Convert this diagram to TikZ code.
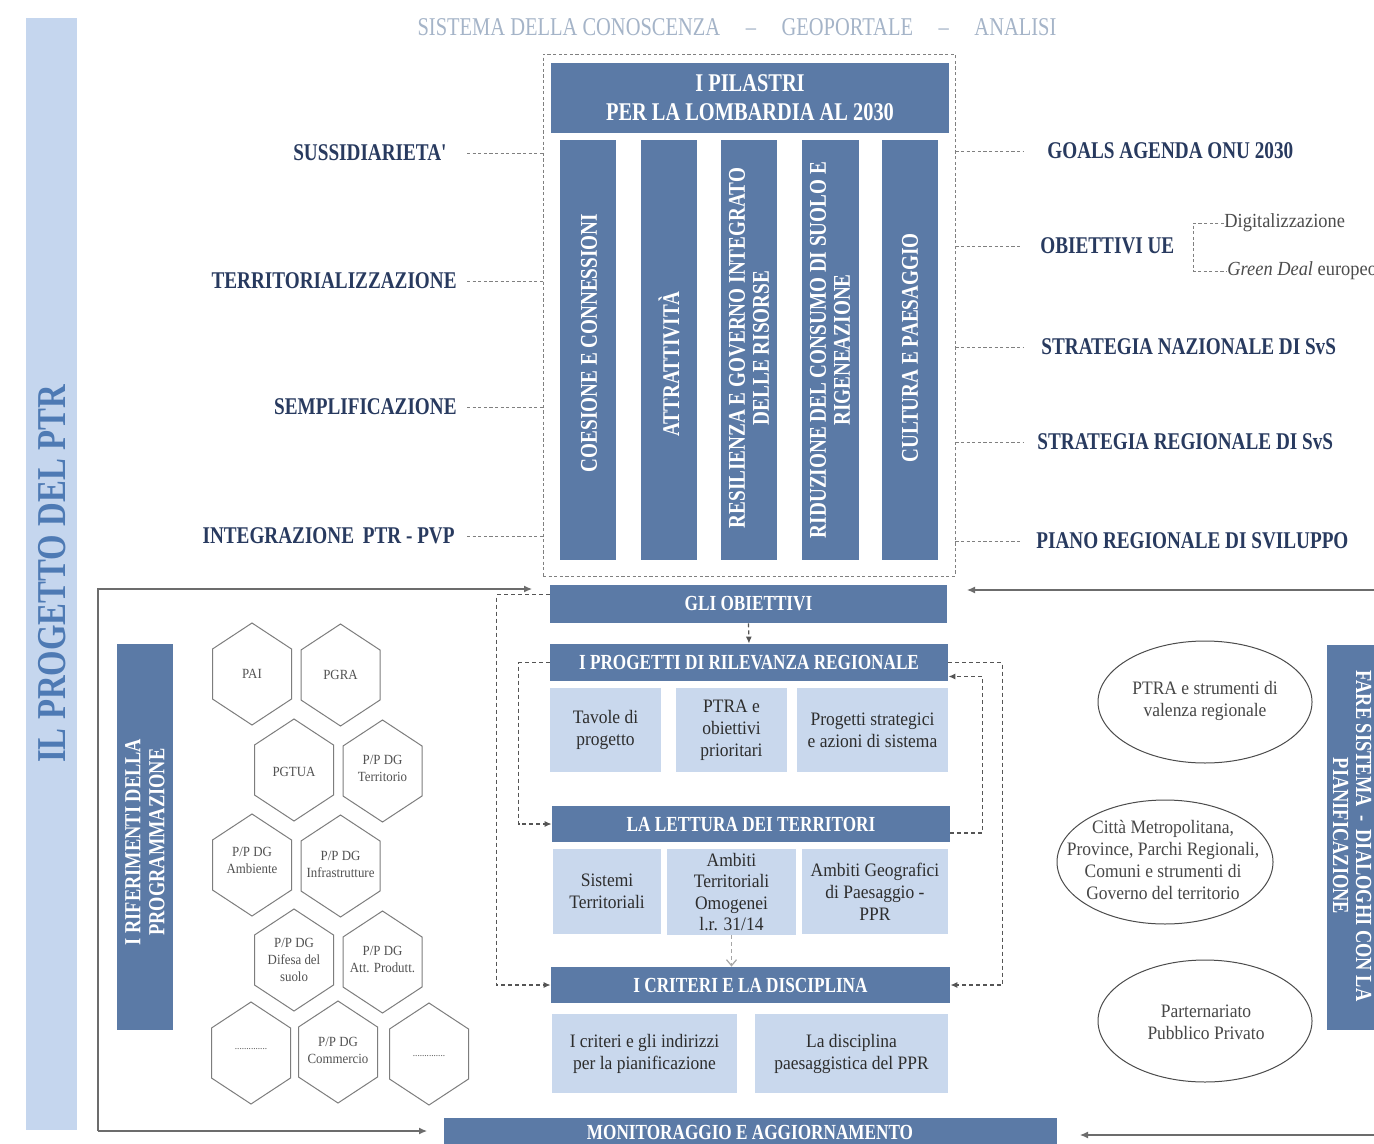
\documentclass[tikz,border=0pt]{standalone}
\usepackage{fontspec}
\setmainfont{Liberation Serif}
\newfontfamily\cond{Liberation Serif}[FakeStretch=0.8]
\newfontfamily\bodyf{Liberation Serif}[FakeStretch=0.92]
\usetikzlibrary{arrows.meta,fit,shapes.geometric}
\definecolor{dkblue}{RGB}{91,122,166}
\definecolor{ltblue}{RGB}{201,216,237}
\definecolor{band}{RGB}{197,214,238}
\definecolor{navy}{RGB}{40,58,95}
\definecolor{steel}{RGB}{78,122,180}
\definecolor{hdrgray}{RGB}{165,180,200}
\definecolor{txtdk}{RGB}{45,45,45}
\definecolor{hexgray}{RGB}{125,125,125}
\definecolor{fbgray}{RGB}{85,85,85}
\newcommand\setfs[2]{\fontsize{#1}{#2}\selectfont}
\newcommand\hexp[2]{\draw[hexst] (#1,#2) ++(0,-51) -- ++(39.5,26) -- ++(0,50) -- ++(-39.5,26) -- ++(-39.5,-26) -- ++(0,-50) -- cycle;}
\begin{document}
\begin{tikzpicture}[x=0.5pt,y=-0.5pt,
  dkbox/.style={fill=dkblue, draw=none, inner sep=0pt},
  ltbox/.style={fill=ltblue, draw=none, inner sep=0pt},
  dktxt/.style={text=white, font=\cond\bfseries\setfs{10.75}{12.5}, align=center, inner sep=0pt},
  lttxt/.style={text=txtdk, font=\bodyf\setfs{9.5}{11}, align=center, inner sep=0pt},
  vtxt/.style={text=white, font=\cond\bfseries\setfs{12}{12}, align=center, rotate=90, inner sep=0pt},
  lab/.style={text=navy, font=\cond\bfseries\setfs{12}{14}, inner sep=0pt},
  dashln/.style={draw=gray, dash pattern=on 1.6pt off 1.2pt, line width=0.45pt},
  garrow/.style={draw=gray!85!black, line width=0.6pt, -{Latex[length=4pt,width=3.5pt]}},
  fb/.style={draw=fbgray, dash pattern=on 2pt off 1.5pt, line width=0.6pt, -{Latex[length=3.5pt,width=3pt]}},
  fbopen/.style={draw=gray!70, dash pattern=on 2pt off 1.5pt, line width=0.6pt, -{Straight Barb[length=3pt,width=5pt]}},
  hexst/.style={draw=hexgray, line width=0.5pt},
  hext/.style={text=black!68, font=\bodyf\setfs{7}{8.5}, align=center, inner sep=0pt},
  elst/.style={ellipse, draw=black!70, line width=0.5pt, inner sep=0pt},
  eltxt/.style={text=black!72, font=\bodyf\setfs{9.5}{11}, align=center, inner sep=0pt}
]
\useasboundingbox (0,0) rectangle (1374,1144);
\clip (0,0) rectangle (1374,1144);
\fill[white] (0,0) rectangle (1374,1144);

% left band
\node[fit={(26,18) (77,1130)}, fill=band, inner sep=0pt] (band) {};
\node[rotate=90, text=steel, font=\cond\bfseries\setfs{20.5}{22}, inner sep=0pt] (bandt) at (52,574) {IL PROGETTO DEL PTR};

% header
\node[text=hdrgray, font=\cond\setfs{12.8}{14}] (head) at (737,27) {SISTEMA DELLA CONOSCENZA\hspace{1em}–\hspace{1em}GEOPORTALE\hspace{1em}–\hspace{1em}ANALISI};

% dashed box and pillars
\node[fit={(543,54) (955,576)}, inner sep=0pt, draw=gray, dash pattern=on 1.6pt off 1.2pt, line width=0.45pt] (box) {};
\node[dkbox, fit={(551,63) (949,133)}] (pil) {};
\node[dktxt, font=\cond\bfseries\setfs{12.75}{14.5}] (pilt) at (pil.center) {I PILASTRI\\PER LA LOMBARDIA AL 2030};
\node[dkbox, fit={(560,140) (616,560)}] (p1) {};
\node[dkbox, fit={(641,140) (697,560)}] (p2) {};
\node[dkbox, fit={(721,140) (777,560)}] (p3) {};
\node[dkbox, fit={(802,140) (859,560)}] (p4) {};
\node[dkbox, fit={(882,140) (938,560)}] (p5) {};
\node[vtxt] (p1t) at (589,343) {COESIONE E CONNESSIONI};
\node[vtxt] (p2t) at (669,364) {ATTRATTIVITÀ};
\node[vtxt] (p3t) at (749,348) {RESILIENZA E GOVERNO INTEGRATO\\DELLE RISORSE};
\node[vtxt] (p4t) at (830,350) {RIDUZIONE DEL CONSUMO DI SUOLO E\\RIGENEAZIONE};
\node[vtxt] (p5t) at (910,348) {CULTURA E PAESAGGIO};

% left labels
\node[lab, anchor=east] (sus) at (447,153) {SUSSIDIARIETA'};
\node[lab, anchor=east] (terr) at (457,281) {TERRITORIALIZZAZIONE};
\node[lab, anchor=east] (semp) at (457,407) {SEMPLIFICAZIONE};
\node[lab, anchor=east] (integ) at (455,536) {INTEGRAZIONE\, PTR - PVP};
\draw[dashln, shorten <=10pt] (sus.east) -- (sus.east -| box.west);
\draw[dashln, shorten <=5pt] (terr.east) -- (terr.east -| box.west);
\draw[dashln, shorten <=5pt] (semp.east) -- (semp.east -| box.west);
\draw[dashln, shorten <=6pt] (integ.east) -- (integ.east -| box.west);

% right labels
\node[lab, anchor=west] (goals) at (1047,151) {GOALS AGENDA ONU 2030};
\node[lab, anchor=west] (obue) at (1040,246) {OBIETTIVI UE};
\node[lab, anchor=west] (snaz) at (1041,347) {STRATEGIA NAZIONALE DI SvS};
\node[lab, anchor=west] (sreg) at (1037,442) {STRATEGIA REGIONALE DI SvS};
\node[lab, anchor=west] (piano) at (1036,541) {PIANO REGIONALE DI SVILUPPO};
\draw[dashln, shorten >=12pt] (goals.west -| box.east) -- (goals.west);
\draw[dashln, shorten >=9pt] (obue.west -| box.east) -- (obue.west);
\draw[dashln, shorten >=9pt] (snaz.west -| box.east) -- (snaz.west);
\draw[dashln, shorten >=7pt] (sreg.west -| box.east) -- (sreg.west);
\draw[dashln, shorten >=7pt] (piano.west -| box.east) -- (piano.west);
\node[anchor=west, inner sep=0pt, text=black!70, font=\bodyf\setfs{10}{12}] (digit) at (1224,223) {Digitalizzazione};
\node[anchor=west, inner sep=0pt, text=black!70, font=\bodyf\setfs{10}{12}] (green) at (1227,271) {\itshape Green Deal\upshape\ europeo};
\draw[dashln] (digit.west) -- ++(-31,0) |- (green.west);

% outer frame and arrows
\coordinate (fTL) at (98,589);
\coordinate (fBL) at (98,1131);
\coordinate (aTop) at (532,589);
\coordinate (aBot) at (427,1131);
\coordinate (rTopS) at (1380,590);
\coordinate (rTopE) at (967,590);
\coordinate (rBotS) at (1380,1135);
\coordinate (rBotE) at (1080,1135);
\draw[garrow] (fBL) -- (fTL) -- (aTop);
\draw[garrow] (fBL) -- (aBot);
\draw[garrow] (rTopS) -- (rTopE);
\draw[garrow] (rBotS) -- (rBotE);

% central column
\node[dkbox, fit={(550,585) (947,623)}] (gli) {};
\node[dktxt] (glit) at (gli.center) {GLI OBIETTIVI};
\node[dkbox, fit={(550,644) (948,681)}] (prog) {};
\node[dktxt] (progt) at (prog.center) {I PROGETTI DI RILEVANZA REGIONALE};
\node[ltbox, fit={(550,688) (661,772)}] (tav) {};
\node[lttxt] (tavt) at (tav.center) {Tavole di\\progetto};
\node[ltbox, fit={(676,688) (787,772)}] (ptra) {};
\node[lttxt] (ptrat) at (ptra.center) {PTRA e\\obiettivi\\prioritari};
\node[ltbox, fit={(797,688) (948,772)}] (pstr) {};
\node[lttxt] (pstrt) at (pstr.center) {Progetti strategici\\e azioni di sistema};
\node[dkbox, fit={(552,806) (950,842)}] (lett) {};
\node[dktxt] (lettt) at (lett.center) {LA LETTURA DEI TERRITORI};
\node[ltbox, fit={(553,849) (661,934)}] (sist) {};
\node[lttxt] (sistt) at (sist.center) {Sistemi\\Territoriali};
\node[ltbox, fit={(667,849) (796,935)}] (amb) {};
\node[lttxt, font=\bodyf\setfs{9.5}{10.8}] (ambt) at (amb.center) {Ambiti\\Territoriali\\Omogenei\\l.r. 31/14};
\node[ltbox, fit={(802,849) (948,934)}] (ageo) {};
\node[lttxt] (ageot) at (ageo.center) {Ambiti Geografici\\di Paesaggio -\\PPR};
\node[dkbox, fit={(551,967) (950,1003)}] (crit) {};
\node[dktxt] (critt) at (crit.center) {I CRITERI E LA DISCIPLINA};
\node[ltbox, fit={(552,1014) (737,1093)}] (cind) {};
\node[lttxt] (cindt) at (cind.center) {I criteri e gli indirizzi\\per la pianificazione};
\node[ltbox, fit={(755,1014) (948,1093)}] (disc) {};
\node[lttxt] (disct) at (disc.center) {La disciplina\\paesaggistica del PPR};
\node[dkbox, fit={(444,1118) (1057,1158)}] (mon) {};
\node[dktxt] (mont) at (750,1132) {MONITORAGGIO E AGGIORNAMENTO};

\draw[fb] (gli.south) -- (prog.north);
\draw[fbopen] (amb.south) -- (amb.south |- crit.north);
\draw[fb] (gli.north west) ++(0,10) -- ++(-53,0) |- (crit.west);
\draw[fb] (prog.west) -- ++(-31,0) |- (lett.west);
\draw[fb] ([yshift=-4.5pt]lett.east) -- ++(32,0) |- ([yshift=-7pt]prog.east);
\draw[fb] (prog.east) -- ++(54,0) |- (crit.east);

% left references
\node[dkbox, fit={(117,644) (173,1030)}] (rif) {};
\node[vtxt, font=\cond\bfseries\setfs{11.5}{12}] (rift) at (145,842) {I RIFERIMENTI DELLA\\PROGRAMMAZIONE};

% hexagons
\hexp{252}{674} \node[hext] (h1) at (252,674) {PAI};
\hexp{340.5}{675} \node[hext] (h2) at (340.5,675) {PGRA};
\hexp{294}{770} \node[hext] (h3) at (294,772) {PGTUA};
\hexp{382.5}{771} \node[hext] (h4) at (382.5,768) {P/P DG\\Territorio};
\hexp{252}{865} \node[hext] (h5) at (252,860) {P/P DG\\Ambiente};
\hexp{340.5}{866} \node[hext] (h6) at (340.5,864) {P/P DG\\Infrastrutture};
\hexp{294}{960} \node[hext] (h7) at (294,960) {P/P DG\\Difesa del\\suolo};
\hexp{382.5}{962} \node[hext] (h8) at (382.5,959) {P/P DG\\Att. Produtt.};
\hexp{251}{1053} \node[hext, font=\bodyf\setfs{5}{6}] (h9) at (251,1049) {..............};
\hexp{338}{1052} \node[hext] (h10) at (338,1050) {P/P DG\\Commercio};
\hexp{429}{1054} \node[hext, font=\bodyf\setfs{5}{6}] (h11) at (429,1056) {..............};

% ellipses
\node[elst, minimum width=107pt, minimum height=61pt] (e1) at (1205,702) {};
\node[eltxt] (e1t) at (1205,701) {PTRA e strumenti di\\valenza regionale};
\node[elst, minimum width=108pt, minimum height=62pt] (e2) at (1165,862) {};
\node[eltxt] (e2t) at (1163,860) {Città Metropolitana,\\Province, Parchi Regionali,\\Comuni e strumenti di\\Governo del territorio};
\node[elst, minimum width=107pt, minimum height=61pt] (e3) at (1205,1021) {};
\node[eltxt] (e3t) at (1206,1022) {Parternariato\\Pubblico Privato};

% right box
\node[dkbox, fit={(1327,645) (1392,1030)}] (fare) {};
\node[vtxt, rotate=180, font=\cond\bfseries\setfs{11.5}{11.5}] (faret) at (1352,836) {FARE SISTEMA\, -\, DIALOGHI CON LA\\PIANIFICAZIONE};
\end{tikzpicture}
\end{document}
